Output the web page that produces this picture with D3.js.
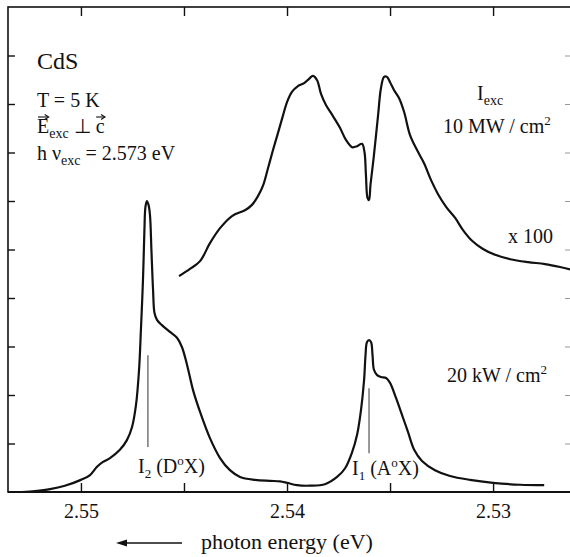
<!DOCTYPE html>
<html>
<head>
<meta charset="utf-8">
<script src="https://cdn.jsdelivr.net/npm/d3@7"></script>
<style>
  html, body { margin: 0; padding: 0; background: #fff; }
  svg text { font-family: "Liberation Serif", "Times New Roman", serif; fill: #111; }
</style>
</head>
<body>
<svg id="chart" width="570" height="557" font-family="Liberation Serif"></svg>
<script>
// Photoluminescence spectra of CdS near the bound-exciton lines.
// Energies in eV (decreasing to the right), intensities in arbitrary units.

// Low excitation (20 kW/cm^2)
const lowEnergy = [2.55286, 2.55223, 2.55150, 2.55078, 2.55000, 2.54956, 2.54922, 2.54893, 2.54859, 2.54811,
  2.54777, 2.54752, 2.54733, 2.54718, 2.54709, 2.54699, 2.54692, 2.54687, 2.54680, 2.54672,
  2.54665, 2.54658, 2.54650, 2.54643, 2.54631, 2.54607, 2.54568, 2.54534, 2.54510, 2.54485,
  2.54456, 2.54422, 2.54374, 2.54325, 2.54277, 2.54228, 2.54155, 2.54083, 2.54034, 2.54000,
  2.53951, 2.53888, 2.53816, 2.53757, 2.53718, 2.53684, 2.53660, 2.53641, 2.53626, 2.53619,
  2.53612, 2.53602, 2.53592, 2.53585, 2.53578, 2.53563, 2.53544, 2.53519, 2.53500, 2.53471,
  2.53442, 2.53413, 2.53383, 2.53345, 2.53282, 2.53209, 2.53112, 2.53000, 2.52869, 2.52752];
const lowIntensity = [0.00, 0.02, 0.06, 0.13, 0.25, 0.35, 0.52, 0.62, 0.70, 0.87,
  1.07, 1.34, 1.79, 2.52, 3.34, 4.37, 5.40, 5.88, 6.00, 5.92,
  5.71, 4.99, 4.16, 3.69, 3.55, 3.44, 3.30, 3.18, 2.99, 2.62,
  2.10, 1.65, 1.11, 0.70, 0.45, 0.31, 0.25, 0.23, 0.22, 0.19,
  0.14, 0.13, 0.16, 0.31, 0.49, 0.82, 1.18, 1.69, 2.31, 2.82,
  3.09, 3.13, 3.09, 2.82, 2.52, 2.41, 2.37, 2.35, 2.25, 1.94,
  1.59, 1.24, 0.87, 0.64, 0.45, 0.33, 0.25, 0.19, 0.15, 0.14];

// High excitation (10 MW/cm^2), scaled x 100
const highEnergy = [2.54524, 2.54471, 2.54422, 2.54374, 2.54325, 2.54267, 2.54204, 2.54170, 2.54141, 2.54117,
  2.54092, 2.54068, 2.54044, 2.54019, 2.54000, 2.53976, 2.53947, 2.53917, 2.53893, 2.53874,
  2.53854, 2.53835, 2.53811, 2.53777, 2.53743, 2.53714, 2.53684, 2.53660, 2.53636, 2.53624,
  2.53617, 2.53609, 2.53602, 2.53595, 2.53578, 2.53558, 2.53544, 2.53529, 2.53515, 2.53500,
  2.53481, 2.53456, 2.53432, 2.53403, 2.53369, 2.53335, 2.53301, 2.53267, 2.53228, 2.53184,
  2.53146, 2.53102, 2.53049, 2.52990, 2.52917, 2.52830, 2.52748, 2.52675, 2.52617];
const highIntensity = [4.45, 4.60, 4.76, 5.13, 5.44, 5.69, 5.81, 5.92, 6.10, 6.31,
  6.68, 7.05, 7.40, 7.77, 8.04, 8.25, 8.37, 8.43, 8.52, 8.58,
  8.49, 8.21, 7.98, 7.75, 7.51, 7.26, 7.11, 7.13, 7.18, 7.01,
  6.54, 6.06, 6.02, 6.33, 6.95, 7.77, 8.33, 8.56, 8.56, 8.45,
  8.29, 8.12, 7.84, 7.36, 7.05, 6.78, 6.43, 6.14, 5.88, 5.65,
  5.40, 5.18, 5.01, 4.89, 4.80, 4.74, 4.70, 4.64, 4.58];

// Axis ticks
const xMajorTicks = [2.55, 2.54, 2.53];
const xAllTicks = [2.55, 2.545, 2.54, 2.535, 2.53];
const yTicks = [1, 2, 3, 4, 5, 6, 7, 8, 9];

// Line markers for the bound-exciton lines: [energy, from, to]
const markerI2 = [2.54675, 0.93, 2.82];
const markerI1 = [2.53602, 0.80, 2.14];

(function draw() {
  const svg = d3.select("#chart");
  const fL = 8, fR = 572, fT = 7, fB = 492;

  const x = d3.scaleLinear().domain([2.55354, 2.52617]).range([fL, fR]);
  const y = d3.scaleLinear().domain([0, 10]).range([fB, fT]);

  const plot = svg.append("g");
  plot.append("clipPath").attr("id", "clip")
    .append("rect").attr("x", fL).attr("y", fT).attr("width", fR - fL).attr("height", fB - fT);

  // Frame
  plot.append("rect")
    .attr("x", fL).attr("y", fT).attr("width", fR - fL).attr("height", fB - fT)
    .attr("fill", "none").attr("stroke", "#111").attr("stroke-width", 1.6);
  plot.append("line").attr("x1", fL).attr("x2", fR).attr("y1", fB).attr("y2", fB)
    .attr("stroke", "#111").attr("stroke-width", 2);

  // Ticks drawn with d3 axes, pointing inward
  const tickLen = 9;
  const styleTicks = (g, col, w) => {
    g.select(".domain").remove();
    g.selectAll("line").attr("stroke", col).attr("stroke-width", w);
  };
  plot.append("g").attr("transform", `translate(0,${fB})`)
    .call(d3.axisTop(x).tickValues(xAllTicks).tickSize(tickLen).tickFormat(""))
    .call(g => styleTicks(g, "#111", 1.4));
  plot.append("g").attr("transform", `translate(0,${fT})`)
    .call(d3.axisBottom(x).tickValues(xAllTicks).tickSize(tickLen).tickFormat(""))
    .call(g => styleTicks(g, "#111", 1.4));
  plot.append("g").attr("transform", `translate(${fL},0)`)
    .call(d3.axisRight(y).tickValues(yTicks).tickSize(7).tickFormat(""))
    .call(g => styleTicks(g, "#111", 1.4));
  plot.append("g").attr("transform", `translate(${fR},0)`)
    .call(d3.axisLeft(y).tickValues(yTicks).tickSize(7).tickFormat(""))
    .call(g => styleTicks(g, "#999", 1));

  // Tick labels
  const xLabels = svg.append("g").attr("transform", `translate(0,${fB})`)
    .call(d3.axisBottom(x).tickValues(xMajorTicks).tickSize(0).tickPadding(12).tickFormat(d3.format(".2f")));
  xLabels.attr("font-family", "Liberation Serif");
  xLabels.select(".domain").remove();
  xLabels.selectAll("text").attr("font-size", 20).attr("fill", "#111");

  // Spectra
  const line = d3.line()
    .x(d => x(d[0])).y(d => y(d[1]))
    .curve(d3.curveCatmullRom.alpha(0.5));

  const lowData = d3.zip(lowEnergy, lowIntensity);
  const highData = d3.zip(highEnergy, highIntensity);

  const curves = plot.append("g").attr("clip-path", "url(#clip)");
  curves.append("path").datum(lowData).attr("d", line)
    .attr("fill", "none").attr("stroke", "#111").attr("stroke-width", 2.2).attr("stroke-linejoin", "round");
  curves.append("path").datum(highData).attr("d", line)
    .attr("fill", "none").attr("stroke", "#111").attr("stroke-width", 2.2).attr("stroke-linejoin", "round");

  // Line markers
  [markerI2, markerI1].forEach(m => {
    plot.append("line")
      .attr("x1", x(m[0])).attr("x2", x(m[0]))
      .attr("y1", y(m[1])).attr("y2", y(m[2]))
      .attr("stroke", "#444").attr("stroke-width", 1.1);
  });

  // Text helpers
  function label(px, py, size) {
    return svg.append("text").attr("x", px).attr("y", py).attr("font-size", size);
  }

  label(37, 69, 24).text("CdS");
  label(37, 107, 20).text("T = 5 K");

  const e = label(37, 133, 20);
  e.append("tspan").text("E");
  e.append("tspan").attr("font-size", 14).attr("dy", 5).text("exc");
  e.append("tspan").attr("dy", -5).text(" \u22A5 c");

  // vector arrows above E and c
  function vecArrow(x0, x1, yy) {
    svg.append("line").attr("x1", x0).attr("x2", x1).attr("y1", yy).attr("y2", yy)
      .attr("stroke", "#111").attr("stroke-width", 1.1);
    svg.append("path").attr("d", `M${x1 - 3.5},${yy - 2.5} L${x1 + 0.5},${yy} L${x1 - 3.5},${yy + 2.5}`)
      .attr("fill", "none").attr("stroke", "#111").attr("stroke-width", 1.1);
  }

  const hv = label(37, 160, 20);
  hv.append("tspan").text("h \u03BD");
  hv.append("tspan").attr("font-size", 14).attr("dy", 5).text("exc");
  hv.append("tspan").attr("dy", -5).text(" = 2.573 eV");

  const iexc = label(477, 100, 20);
  iexc.append("tspan").text("I");
  iexc.append("tspan").attr("font-size", 14).attr("dy", 5).text("exc");

  const mw = label(443, 133, 20);
  mw.append("tspan").text("10 MW / cm");
  mw.append("tspan").attr("font-size", 13).attr("dy", -8).text("2");

  label(508, 243, 20).text("x 100");

  const kw = label(447, 382, 20);
  kw.append("tspan").text("20 kW / cm");
  kw.append("tspan").attr("font-size", 13).attr("dy", -8).text("2");

  function lineLabel(px, py, idx, site) {
    const t = label(px, py, 20);
    t.append("tspan").text("I");
    t.append("tspan").attr("font-size", 13).attr("dy", 5).text(idx);
    t.append("tspan").attr("dy", -5).text(" (" + site);
    t.append("tspan").attr("font-size", 13).attr("dy", -8).text("o");
    t.append("tspan").attr("dy", 8).text("X)");
    return t;
  }
  lineLabel(138, 473, "2", "D");
  lineLabel(352, 475, "1", "A");

  // Axis title with leftward arrow
  label(201, 549, 22).text("photon energy (eV)");
  svg.append("line").attr("x1", 121).attr("x2", 182).attr("y1", 543).attr("y2", 543)
    .attr("stroke", "#111").attr("stroke-width", 1.3);
  svg.append("path").attr("d", "M116,543 L127,539.5 L127,546.5 Z").attr("fill", "#111");

  // Place the vector arrows over the E and c glyphs
  const eNode = e.node();
  const eBox = eNode.getExtentOfChar(0);
  vecArrow(eBox.x + 1, eBox.x + eBox.width - 1, 117);
  const nChars = eNode.getNumberOfChars();
  const cBox = eNode.getExtentOfChar(nChars - 1);
  vecArrow(cBox.x + 0.5, cBox.x + cBox.width, 117);
})();
</script>
</body>
</html>
